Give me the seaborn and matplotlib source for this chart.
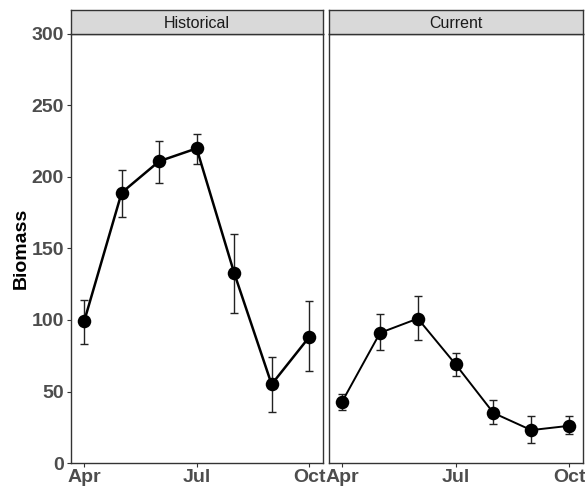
import matplotlib
matplotlib.use("Agg")
import matplotlib.pyplot as plt
import seaborn as sns
import pandas as pd
import numpy as np

months = [4, 5, 6, 7, 8, 9, 10]
tick_months = [4, 7, 10]
tick_labels = ["Apr", "Jul", "Oct"]
periods = ["Historical", "Current"]

hist_mean = [99, 189, 211, 220, 133, 55, 88]
hist_low = [83, 172, 196, 209, 105, 36, 64]
hist_high = [114, 205, 225, 230, 160, 74, 113]

curr_mean = [43, 91, 101, 69, 35, 23, 26]
curr_low = [37, 79, 86, 61, 27, 14, 20]
curr_high = [48, 104, 117, 77, 44, 33, 33]

y_ticks = [0, 50, 100, 150, 200, 250, 300]

df = pd.DataFrame({
    "month": months * 2,
    "biomass": hist_mean + curr_mean,
    "low": hist_low + curr_low,
    "high": hist_high + curr_high,
    "period": ["Historical"] * 7 + ["Current"] * 7,
})

sns.set_theme(style="white")
plt.rcParams["font.family"] = ["Liberation Sans", "DejaVu Sans"]

W, H = 585, 488
fig = plt.figure(figsize=(W / 100, H / 100), dpi=100)
panels = [(71, 323), (329, 583)]
top_px, bot_px, strip_top = 34, 463, 10

for i, (period, (x0, x1)) in enumerate(zip(periods, panels)):
    ax = fig.add_axes([x0 / W, 1 - bot_px / H, (x1 - x0) / W, (bot_px - top_px) / H])
    sub = df[df["period"] == period]
    ax.errorbar(sub["month"], sub["biomass"],
                yerr=[sub["biomass"] - sub["low"], sub["high"] - sub["biomass"]],
                fmt="none", ecolor="#222222", elinewidth=1.0, capsize=3, capthick=1.0, zorder=2)
    sns.lineplot(data=sub, x="month", y="biomass", ax=ax, color="black",
                 linewidth=1.8 if i == 0 else 1.4, zorder=3)
    sns.scatterplot(data=sub, x="month", y="biomass", ax=ax, color="black",
                    s=95, edgecolor="black", linewidth=0, zorder=4)
    ax.set_xlim(3.65, 10.37)
    ax.set_ylim(0, 300)
    ax.set_xticks(tick_months)
    ax.set_xticklabels(tick_labels, fontsize=14, fontweight="bold", color="#4D4D4D")
    ax.set_xlabel("")
    ax.set_yticks(y_ticks)
    if i == 0:
        ax.set_yticklabels([str(v) for v in y_ticks], fontsize=14, fontweight="bold", color="#4D4D4D")
        ax.set_ylabel("Biomass", fontsize=14, fontweight="bold", color="black", labelpad=1)
        ax.tick_params(axis="y", which="both", direction="out", length=3, width=0.8,
                       color="#333333", left=True, pad=2)
    else:
        ax.set_yticklabels([])
        ax.set_ylabel("")
        ax.tick_params(axis="y", left=False)
    ax.tick_params(axis="x", which="both", direction="out", length=3, width=0.8,
                   color="#333333", bottom=True, pad=1)
    for s in ax.spines.values():
        s.set_color("#333333")
        s.set_linewidth(1.0)
    ax.grid(False)
    # strip
    sax = fig.add_axes([x0 / W, 1 - top_px / H, (x1 - x0) / W, (top_px - strip_top) / H])
    sax.set_facecolor("#D9D9D9")
    sax.set_xticks([])
    sax.set_yticks([])
    for s in sax.spines.values():
        s.set_color("#333333")
        s.set_linewidth(1.0)
    sax.text(0.5, 0.45, period, ha="center", va="center", fontsize=11.5,
             color="#1A1A1A", transform=sax.transAxes)

fig.savefig("out.png", dpi=100)
